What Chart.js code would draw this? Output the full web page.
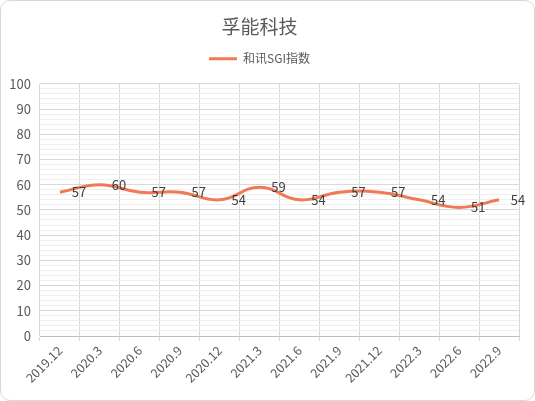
<!DOCTYPE html>
<html>
<head>
<meta charset="utf-8">
<script src="https://cdn.jsdelivr.net/npm/chart.js@4"></script>
<style>
  html, body { margin: 0; padding: 0; background: #fff; }
  #box {
    width: 535px; height: 401px; box-sizing: border-box;
    border: 1px solid #d9d9d9; border-radius: 10px; position: relative;
  }
  #chart { position: absolute; left: -1px; top: -1px; }
</style>
</head>
<body>
<div id="box"><canvas id="chart" width="535" height="401"></canvas></div>
<script>
const titleText = "孚能科技";
const seriesName = "和讯SGI指数";
const periods = ["2019.12", "2020.3", "2020.6", "2020.9", "2020.12", "2021.3",
    "2021.6", "2021.9", "2021.12", "2022.3", "2022.6", "2022.9"];
const sgiValues = [57, 60, 57, 57, 54, 59, 54, 57, 57, 54, 51, 54];

Chart.defaults.font.family = "'Noto Sans CJK SC', 'Noto Sans', sans-serif";
Chart.defaults.color = "#595959";

// draws the value labels to the right of each point
const pointLabels = {
    id: "pointLabels",
    afterDatasetsDraw(chart) {
        const ctx = chart.ctx;
        const meta = chart.getDatasetMeta(0);
        ctx.save();
        ctx.font = "13px 'Noto Sans CJK SC', sans-serif";
        ctx.fillStyle = "#404040";
        ctx.textAlign = "center";
        ctx.textBaseline = "middle";
        meta.data.forEach((pt, i) => {
            ctx.fillText(chart.data.datasets[0].data[i], pt.x + 19, pt.y);
        });
        ctx.restore();
    }
};

// a bit more room under the legend
const legendGap = {
    id: "legendGap",
    afterInit(chart) {
        const legend = chart.legend;
        if (!legend) return;
        const fit = legend.fit;
        legend.fit = function () {
            fit.call(this);
            this.height += 9;
        };
    }
};

const chart = new Chart("chart", {
    type: "line",
    data: {
        labels: periods,
        datasets: [{
            label: seriesName,
            data: sgiValues,
            borderColor: "#F07A55",
            backgroundColor: "#F07A55",
            borderWidth: 3,
            tension: 0.45,
            pointRadius: 0
        }]
    },
    options: {
        responsive: false,
        animation: false,
        layout: {
            padding: { left: 0, right: 16, top: 0, bottom: 0 }
        },
        scales: {
            x: {
                offset: true,
                grid: {
                    offset: true,
                    color: "#d9d9d9",
                    tickLength: 5
                },
                border: { color: "#bfbfbf" },
                ticks: {
                    minRotation: 45,
                    maxRotation: 45,
                    autoSkip: false,
                    font: { size: 12.5 },
                    padding: 2
                },
                afterFit(scale) { scale.height = 65; }
            },
            y: {
                min: 0,
                max: 100,
                grid: {
                    drawTicks: false,
                    color: (c) => c.tick && c.tick.value % 10 === 0 ? "#d9d9d9" : "#efefef"
                },
                border: { display: false },
                ticks: {
                    stepSize: 2,
                    autoSkip: false,
                    padding: 9,
                    font: { size: 13 },
                    callback: (v) => v % 10 === 0 ? v : ""
                },
                afterFit(scale) { scale.width = 40; }
            }
        },
        plugins: {
            title: {
                display: true,
                text: titleText,
                font: { size: 19, weight: "normal" },
                color: "#595959",
                padding: { top: 15, bottom: 5 }
            },
            legend: {
                labels: {
                    usePointStyle: true,
                    pointStyle: "line",
                    pointStyleWidth: 28,
                    boxHeight: 12,
                    font: { size: 12 },
                    color: "#595959",
                    padding: 10
                }
            },
            tooltip: { enabled: false }
        }
    },
    plugins: [pointLabels, legendGap]
});
</script>
</body>
</html>
